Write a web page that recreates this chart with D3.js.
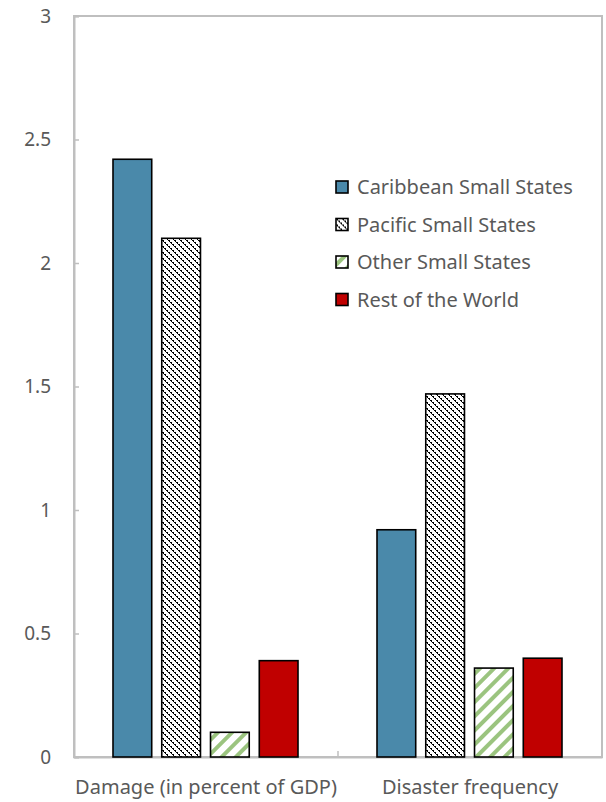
<!DOCTYPE html>
<html>
<head>
<meta charset="utf-8">
<script src="https://cdn.jsdelivr.net/npm/d3@7"></script>
<style>
  html, body { margin: 0; padding: 0; background: #fff; }
  svg text { font-family: "Noto Sans", "Open Sans", sans-serif; fill: #595959; }
</style>
</head>
<body>
<svg id="chart" width="606" height="802"></svg>
<script>
// Indicators on the x axis
const categories = ["Damage (in percent of GDP)", "Disaster frequency"];
// Country groups (one bar each per indicator)
const groups = ["Caribbean Small States", "Pacific Small States", "Other Small States", "Rest of the World"];
// Values per group, in indicator order
const caribbean = [2.42, 0.92];
const pacific   = [2.10, 1.47];
const other     = [0.10, 0.36];
const restWorld = [0.39, 0.40];
const yTicks = [0, 0.5, 1, 1.5, 2, 2.5, 3];
const yTickLabels = ["0", "0.5", "1", "1.5", "2", "2.5", "3"];

const seriesValues = [caribbean, pacific, other, restWorld];

const svg = d3.select("#chart");
const plot = { left: 74, right: 602, top: 16, bottom: 757 };

const defs = svg.append("defs");
// Pacific: dense dotted diagonal hatch
const pHatch = defs.append("pattern")
  .attr("id", "hatchPacific").attr("patternUnits", "userSpaceOnUse")
  .attr("width", 6).attr("height", 6);
pHatch.append("rect").attr("width", 6).attr("height", 6).attr("fill", "#fff");
[0, 1, 2, 3, 4, 5].forEach(i => {
  pHatch.append("rect").attr("x", i).attr("y", i).attr("width", 1).attr("height", 1).attr("fill", "#000");
  if (i % 2 === 0) {
    pHatch.append("rect").attr("x", (i + 1) % 6).attr("y", i).attr("width", 1).attr("height", 1).attr("fill", "#000");
  }
});
// Other small states: wide green upward stripes
const gHatch = defs.append("pattern")
  .attr("id", "stripeOther").attr("patternUnits", "userSpaceOnUse")
  .attr("width", 10).attr("height", 10)
  .attr("patternTransform", "rotate(45)");
gHatch.append("rect").attr("width", 10).attr("height", 10).attr("fill", "#fff");
gHatch.append("rect").attr("width", 4).attr("height", 10).attr("fill", "#9bc47f");

const fills = ["#4a89aa", "url(#hatchPacific)", "url(#stripeOther)", "#c00000"];

const x = d3.scaleBand().domain(categories).range([plot.left, plot.right]).paddingInner(0).paddingOuter(0);
const xInner = d3.scaleBand().domain(groups).range([39, x.bandwidth() - 40]).paddingInner(0.206).paddingOuter(0);
const y = d3.scaleLinear().domain([0, 3]).range([plot.bottom, plot.top]);

// frame
svg.append("rect")
  .attr("x", plot.left).attr("y", plot.top)
  .attr("width", plot.right - plot.left).attr("height", plot.bottom - plot.top)
  .attr("fill", "none").attr("stroke", "#bfbfbf").attr("stroke-width", 2);

// y axis
const yAxis = d3.axisLeft(y).tickValues(yTicks).tickSize(-5).tickPadding(23)
  .tickFormat((d, i) => yTickLabels[i]);
const gy = svg.append("g").attr("transform", `translate(${plot.left},0)`).call(yAxis);
gy.select(".domain").attr("stroke", "#bfbfbf").attr("stroke-width", 2);
gy.selectAll(".tick line").attr("stroke", "#bfbfbf").attr("stroke-width", 1.5);
gy.selectAll(".tick text").attr("font-size", 19).style("font-family", "'Noto Sans', sans-serif").attr("fill", "#595959");

// x axis
const xAxis = d3.axisBottom(x).tickSize(0).tickPadding(23);
const gx = svg.append("g").attr("transform", `translate(0,${plot.bottom})`).call(xAxis);
gx.select(".domain").attr("stroke", "#bfbfbf").attr("stroke-width", 2);
gx.selectAll(".tick text").attr("font-size", 20).style("font-family", "'Noto Sans', sans-serif").attr("fill", "#595959");
// category divider tick
svg.append("line")
  .attr("x1", x(categories[1])).attr("x2", x(categories[1]))
  .attr("y1", plot.bottom).attr("y2", plot.bottom - 6)
  .attr("stroke", "#bfbfbf").attr("stroke-width", 1.5);

// bars
categories.forEach((cat, ci) => {
  groups.forEach((grp, gi) => {
    const v = seriesValues[gi][ci];
    svg.append("rect")
      .attr("x", x(cat) + xInner(grp))
      .attr("y", y(v))
      .attr("width", xInner.bandwidth())
      .attr("height", y(0) - y(v))
      .attr("fill", fills[gi])
      .attr("stroke", "#000")
      .attr("stroke-width", 1.6);
  });
});

// legend
const legend = svg.append("g").attr("transform", "translate(336,187)");
groups.forEach((grp, gi) => {
  const row = legend.append("g").attr("transform", `translate(0,${gi * 37.5})`);
  row.append("rect").attr("x", 0).attr("y", -6).attr("width", 12).attr("height", 12)
    .attr("fill", fills[gi]).attr("stroke", "#000").attr("stroke-width", 1.6);
  row.append("text").attr("x", 21).attr("y", 0).attr("dy", "0.35em")
    .attr("font-size", 20).text(grp);
});
</script>
</body>
</html>
